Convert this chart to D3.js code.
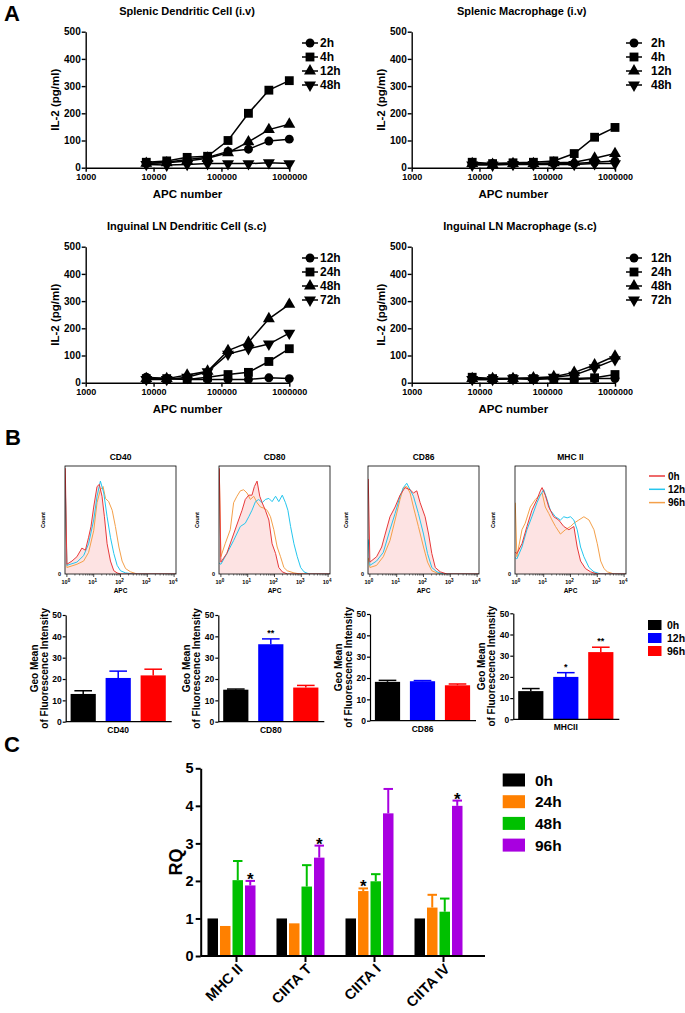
<!DOCTYPE html>
<html><head><meta charset="utf-8">
<script src="https://cdn.jsdelivr.net/npm/d3@7"></script>
<style>
body{margin:0;background:#fff}
text{font-family:"Liberation Sans",Arial,sans-serif;font-weight:bold;fill:#000}
</style></head>
<body><svg id="c" width="685" height="1013"></svg>
<script>
// ---------------- DATA ----------------
const apcNumbers = [7812.5,15625,31250,62500,125000,250000,500000,1000000];
const apcTicks = [1000,10000,100000,1000000];
const il2Ticks = [0,100,200,300,400,500];
const splenicTimes = ["2h","4h","12h","48h"];
const inguinalTimes = ["12h","24h","48h","72h"];
const splenicDC = [
  [15,20,30,38,60,68,98,105],
  [20,25,38,42,100,200,285,320],
  [16,18,25,35,55,95,140,160],
  [12,10,12,15,15,15,18,15]];
const splenicMac = [
  [12,15,15,12,15,15,20,25],
  [20,15,18,20,25,52,112,148],
  [15,12,15,15,18,20,35,52],
  [10,10,12,12,12,12,15,15]];
const inguinalDC = [
  [20,15,12,12,12,12,18,15],
  [15,15,12,20,30,38,78,125],
  [15,15,28,42,118,148,235,288],
  [12,12,20,40,105,125,142,182]];
const inguinalMac = [
  [12,12,15,12,15,12,15,15],
  [20,15,15,15,15,15,18,30],
  [15,15,15,18,22,38,65,98],
  [12,12,15,15,20,28,55,85]];

// histograms: [log10 APC, % of max count]
const histMarkers = ["CD40","CD80","CD86","MHC II"];
const histTimes = ["0h","12h","96h"];
const histDecades = [0,1,2,3,4];
const cd40_0h = [[-0.06,98],[0,9],[0.19,12],[0.375,16],[0.56,24],[0.69,22],[0.81,34],[0.9,44],[1.0,62],[1.125,81],[1.21,83],[1.31,72],[1.4,53],[1.5,28],[1.625,12],[1.75,3],[1.875,1],[2.0,0],[4.06,0]];
const cd40_12h = [[-0.06,85],[0,8],[0.375,11],[0.625,17],[0.81,28],[1.0,50],[1.125,72],[1.25,86],[1.375,75],[1.5,53],[1.625,34],[1.75,19],[1.875,8],[2.0,3],[2.19,1],[2.5,0],[4.06,0]];
const cd40_96h = [[-0.06,82],[0,6],[0.375,9],[0.625,12],[0.81,20],[1.0,40],[1.125,66],[1.25,78],[1.35,81],[1.44,70],[1.56,67],[1.69,59],[1.81,44],[1.94,25],[2.06,12],[2.19,5],[2.375,2],[2.625,0],[4.06,0]];
const cd80_0h = [[-0.06,98],[0,11],[0.22,19],[0.475,37],[0.66,50],[0.79,59],[0.91,69],[1.04,73],[1.16,73],[1.25,81],[1.35,86],[1.45,72],[1.54,66],[1.66,59],[1.79,50],[1.91,28],[2.04,19],[2.16,6],[2.29,2],[2.48,0],[4.06,0]];
const cd80_12h = [[-0.06,10],[0,9],[0.225,19],[0.475,31],[0.725,44],[0.91,47],[1.04,53],[1.16,59],[1.29,67],[1.41,69],[1.54,66],[1.66,69],[1.79,70],[1.91,67],[2.04,72],[2.16,67],[2.29,73],[2.41,66],[2.5,59],[2.6,44],[2.725,28],[2.85,16],[2.975,6],[3.1,2],[3.29,0],[4.06,0]];
const cd80_96h = [[-0.06,97],[0,16],[0.16,28],[0.35,41],[0.475,66],[0.6,72],[0.725,77],[0.85,78],[0.975,75],[1.1,69],[1.225,72],[1.35,66],[1.475,62],[1.6,61],[1.725,59],[1.85,53],[1.975,41],[2.1,25],[2.225,16],[2.35,6],[2.475,3],[2.725,1],[2.975,0],[4.06,0]];
const cd86_0h = [[-0.06,88],[0,11],[0.25,16],[0.44,25],[0.56,36],[0.75,53],[0.94,62],[1.125,73],[1.31,80],[1.5,78],[1.625,75],[1.75,77],[1.875,66],[2.06,53],[2.19,37],[2.31,19],[2.44,6],[2.625,2],[2.875,0],[4.06,0]];
const cd86_12h = [[-0.06,32],[0,8],[0.25,12],[0.5,20],[0.75,41],[0.94,56],[1.125,72],[1.25,80],[1.375,84],[1.5,78],[1.625,72],[1.81,56],[2.0,37],[2.15,19],[2.31,6],[2.5,2],[2.75,0],[4.06,0]];
const cd86_96h = [[-0.06,15],[0,6],[0.25,8],[0.5,16],[0.75,31],[0.94,50],[1.125,69],[1.25,80],[1.375,81],[1.5,75],[1.625,62],[1.81,44],[2.0,25],[2.15,11],[2.31,3],[2.5,1],[2.75,0],[4.06,0]];
const mhc_0h = [[-0.06,20],[0,19],[0.19,28],[0.375,44],[0.56,59],[0.75,69],[0.875,77],[0.94,80],[1.06,73],[1.19,62],[1.375,53],[1.56,50],[1.75,44],[1.94,41],[2.125,44],[2.25,25],[2.375,12],[2.56,5],[2.75,2],[3.0,0],[4.06,0]];
const mhc_12h = [[-0.06,15],[0,14],[0.19,25],[0.375,41],[0.56,53],[0.75,66],[0.875,73],[1.0,78],[1.125,69],[1.25,59],[1.44,53],[1.625,50],[1.75,53],[1.875,52],[2.0,53],[2.125,50],[2.25,41],[2.375,25],[2.5,16],[2.69,6],[2.875,2],[3.125,0],[4.06,0]];
const mhc_96h = [[-0.06,66],[0,16],[0.19,41],[0.31,47],[0.5,62],[0.69,69],[0.81,72],[0.94,75],[1.06,62],[1.19,56],[1.31,50],[1.44,44],[1.625,37],[1.81,41],[2.0,44],[2.125,47],[2.31,50],[2.5,53],[2.69,50],[2.875,41],[3.0,28],[3.125,12],[3.25,5],[3.375,2],[3.625,0],[4.06,0]];

// geo mean bars
const geoMarkers = ["CD40","CD80","CD86","MHCII"];
const geoTimes = ["0h","12h","96h"];
const geoTicks = [0,10,20,30,40,50];
const geoMean = [[13,20.5,21.7],[15,36.3,16],[18.2,18.5,16.6],[13.3,20,31.7]];
const geoErrTop = [[14.5,23.7,24.6],[15.3,38.8,17],[18.9,18.8,17.2],[14.5,22,34]];
const geoSig = [["","",""],["","**",""],["","",""],["","*","**"]];

// RQ bars
const rqGenes = ["MHC II","CIITA T","CIITA I","CIITA IV"];
const rqTimes = ["0h","24h","48h","96h"];
const rqTicks = [0,1,2,3,4,5];
const rqMean = [[1,0.8,2.02,1.88],[1,0.87,1.85,2.62],[1,1.73,1.99,3.8],[1,1.29,1.18,4.0]];
const rqErrTop = [[1,0.8,2.53,2.0],[1,0.87,2.42,2.94],[1,1.8,2.18,4.45],[1,1.63,1.53,4.14]];
const rqSig = [["","","","*"],["","","","*"],["","*","",""],["","","","*"]];

// ---------------- DRAW ----------------
const svg = d3.select("#c");
const F = '"Liberation Sans",Arial,sans-serif';

function styleAxis(g, fs, sw){
  g.selectAll("path.domain").attr("stroke","#000").attr("stroke-width",sw);
  g.selectAll(".tick line").attr("stroke","#000").attr("stroke-width",sw);
  g.selectAll(".tick text").attr("font-size",fs).attr("font-family",F).attr("font-weight","bold").attr("fill","#000");
}
function label(x,y,t,fs,anchor,rot){
  const e = svg.append("text").attr("x",x).attr("y",y).attr("font-size",fs).attr("text-anchor",anchor||"middle").text(t);
  if(rot) e.attr("transform",`rotate(${rot},${x},${y})`);
  return e;
}

// Panel letters
label(4,21,"A",22,"start");
label(5,445,"B",22,"start");
label(4,752,"C",22,"start");

// ---- Panel A ----
const symTypes = [d3.symbolCircle,d3.symbolSquare,d3.symbolTriangle,d3.symbolTriangle];
const symSizes = [62,78,62,62];
function markerPath(i){ return d3.symbol().type(symTypes[i]).size(symSizes[i])(); }
function markerRot(i){ return i===3 ? " rotate(180)" : ""; }

function drawA(data, times, title, x0, x1, yTop, yBot, titleX, legM, legT, legY){
  const x = d3.scaleLog().domain([1000,1000000]).range([x0,x1]);
  const y = d3.scaleLinear().domain([0,500]).range([yBot,yTop]);
  const ya = svg.append("g").attr("transform",`translate(${x0},0)`)
    .call(d3.axisLeft(y).tickValues(il2Ticks).tickSize(4).tickSizeOuter(0).tickPadding(1).tickFormat(d3.format("d")));
  styleAxis(ya,10,1.4);
  const xa = svg.append("g").attr("transform",`translate(0,${yBot})`)
    .call(d3.axisBottom(x).tickValues(apcTicks).tickSize(4).tickSizeOuter(0).tickPadding(2).tickFormat(d3.format("d")));
  styleAxis(xa,9,1.4);
  label(titleX, yTop-17, title, 11);
  label((x0+x1)/2, yBot+30, "APC number", 11.5);
  label(x0-27, (yTop+yBot)/2, "IL-2 (pg/ml)", 11.5, "middle", -90);
  const line = d3.line().x((d,j)=>x(apcNumbers[j])).y(d=>y(d));
  data.forEach((s,i)=>{
    svg.append("path").attr("d",line(s)).attr("fill","none").attr("stroke","#000").attr("stroke-width",1.5);
  });
  data.forEach((s,i)=>{
    svg.append("g").selectAll("path").data(s).join("path")
      .attr("d",markerPath(i))
      .attr("transform",(d,j)=>`translate(${x(apcNumbers[j])},${y(d)})${markerRot(i)}`)
      .attr("fill","#000");
  });
  times.forEach((t,i)=>{
    const yy = legY + i*14;
    svg.append("line").attr("x1",legM-8).attr("x2",legM+8).attr("y1",yy).attr("y2",yy).attr("stroke","#000").attr("stroke-width",1.5);
    svg.append("path").attr("d",markerPath(i)).attr("transform",`translate(${legM},${yy})${markerRot(i)}`).attr("fill","#000");
    label(legT, yy+4.3, t, 12, "start");
  });
}
drawA(splenicDC, splenicTimes, "Splenic Dendritic Cell  (i.v)", 85.7, 289.3, 31.7, 167.7, 187, 310, 320, 43);
drawA(splenicMac, splenicTimes, "Splenic Macrophage (i.v)", 411.7, 615, 31.7, 167.7, 521.7, 634, 651, 43);
drawA(inguinalDC, inguinalTimes, "Inguinal LN Dendritic Cell (s.c)", 85.7, 289.3, 246.7, 382.7, 186.7, 310, 320, 258);
drawA(inguinalMac, inguinalTimes, "Inguinal LN Macrophage (s.c)", 411.7, 615, 246.7, 382.7, 520, 634, 651, 258);

// ---- Panel B histograms ----
const histColors = ["#e8393a","#25c6ee","#f4a04a"];
const histCurves = [[cd40_0h,cd40_12h,cd40_96h],[cd80_0h,cd80_12h,cd80_96h],[cd86_0h,cd86_12h,cd86_96h],[mhc_0h,mhc_12h,mhc_96h]];
const histLefts = [65,219,368,515];
const hTop = 466, hBot = 574, hW = 111;
histMarkers.forEach((m,k)=>{
  const left = histLefts[k];
  const x = d3.scaleLinear().domain([-0.07,4.07]).range([left,left+hW]);
  const y = d3.scaleLinear().domain([0,100]).range([hBot,hTop]);
  const cid = "clip"+k;
  svg.append("clipPath").attr("id",cid).append("rect").attr("x",left).attr("y",hTop).attr("width",hW).attr("height",hBot-hTop);
  const g = svg.append("g").attr("clip-path",`url(#${cid})`);
  const curves = histCurves[k];
  g.append("path").attr("d", d3.area().x(d=>x(d[0])).y0(hBot).y1(d=>y(d[1]))(curves[0]))
    .attr("fill","#fde3e3").attr("stroke","none");
  [2,1,0].forEach(i=>{
    g.append("path").attr("d", d3.line().x(d=>x(d[0])).y(d=>y(d[1]))(curves[i]))
      .attr("fill","none").attr("stroke",histColors[i]).attr("stroke-width",1);
  });
  svg.append("rect").attr("x",left).attr("y",hTop).attr("width",hW).attr("height",hBot-hTop)
    .attr("fill","none").attr("stroke","#000").attr("stroke-width",0.8);
  histDecades.forEach(dd=>{
    svg.append("line").attr("x1",x(dd)).attr("x2",x(dd)).attr("y1",hBot).attr("y2",hBot+3).attr("stroke","#000").attr("stroke-width",0.7);
    const t = svg.append("text").attr("x",x(dd)-1).attr("y",hBot+10).attr("font-size",5.5).attr("text-anchor","middle").attr("font-weight","normal");
    t.append("tspan").text("10");
    t.append("tspan").attr("dy",-2.5).attr("font-size",4.5).text(dd);
    if(dd<4) for(let mm=2; mm<10; mm++){
      const xx = x(dd+Math.log10(mm));
      svg.append("line").attr("x1",xx).attr("x2",xx).attr("y1",hBot).attr("y2",hBot+1.6).attr("stroke","#000").attr("stroke-width",0.5);
    }
  });
  label(left+hW/2, hBot+19, "APC", 6.5);
  label(left-20, (hTop+hBot)/2, "Count", 5.5, "middle", -90).attr("font-weight","normal");
  label(left-4, hBot+2, "0", 5.5, "end").attr("font-weight","normal");
  label(left+hW/2, hTop-6, m, 8.5);
});
histTimes.forEach((t,i)=>{
  const yy = 476 + i*13.3;
  svg.append("line").attr("x1",649).attr("x2",665).attr("y1",yy).attr("y2",yy).attr("stroke",histColors[i]).attr("stroke-width",1.5);
  label(668, yy+3.5, t, 10, "start");
});

// ---- Panel B bar charts ----
const geoColors = ["#000000","#0000ff","#ff0000"];
const geoAxisX = [65.7,218.3,370,513.3];
const geoY0 = [721.7,721.7,720.7,719.3];
const geoY50 = [615,615,614,613.3];
geoMarkers.forEach((m,k)=>{
  const ax = geoAxisX[k];
  const x = d3.scaleBand().domain(geoTimes).range([ax, ax+105]).paddingInner(0.28).paddingOuter(0.14);
  const y = d3.scaleLinear().domain([0,50]).range([geoY0[k],geoY50[k]]);
  const bw = x.bandwidth();
  geoTimes.forEach((t,i)=>{
    const cx = x(t)+bw/2;
    svg.append("line").attr("x1",cx).attr("x2",cx).attr("y1",y(geoMean[k][i])).attr("y2",y(geoErrTop[k][i])).attr("stroke",geoColors[i]).attr("stroke-width",1.5);
    svg.append("line").attr("x1",cx-bw*0.35).attr("x2",cx+bw*0.35).attr("y1",y(geoErrTop[k][i])).attr("y2",y(geoErrTop[k][i])).attr("stroke",geoColors[i]).attr("stroke-width",1.5);
    svg.append("rect").attr("x",x(t)).attr("width",bw).attr("y",y(geoMean[k][i])).attr("height",y(0)-y(geoMean[k][i])).attr("fill",geoColors[i]);
    if(geoSig[k][i]) label(cx, y(geoErrTop[k][i])-3, geoSig[k][i], 9);
  });
  const ya = svg.append("g").attr("transform",`translate(${ax},0)`)
    .call(d3.axisLeft(y).tickValues(geoTicks).tickSize(3).tickSizeOuter(0).tickPadding(1));
  styleAxis(ya,8.5,1.2);
  svg.append("line").attr("x1",ax).attr("x2",ax+106).attr("y1",y(0)).attr("y2",y(0)).attr("stroke","#000").attr("stroke-width",1.2);
  label(ax+52.5, y(0)+11, m, 8.5);
  const cy = (geoY0[k]+geoY50[k])/2;
  label(ax-28, cy, "Geo Mean", 10, "middle", -90);
  label(ax-18, cy, "of Fluorescence Intensity", 10, "middle", -90);
});
geoTimes.forEach((t,i)=>{
  const yy = 625 + i*13;
  svg.append("rect").attr("x",648).attr("y",yy-5).attr("width",13.5).attr("height",10).attr("fill",geoColors[i]);
  label(667, yy+3.7, t, 10.5, "start");
});

// ---- Panel C ----
const rqColors = ["#000000","#ff8000","#00c000","#a800e0"];
const cx0 = d3.scaleBand().domain(rqGenes).range([197,473]);
const cx1 = d3.scaleBand().domain(rqTimes).range([-24,24]).paddingInner(0.16);
const cy = d3.scaleLinear().domain([0,5]).range([956,768.3]);
rqGenes.forEach((gname,k)=>{
  const gc = cx0(gname)+cx0.bandwidth()/2;
  rqTimes.forEach((t,i)=>{
    const bx = gc + cx1(t), bw = cx1.bandwidth(), mid = bx+bw/2;
    if(rqErrTop[k][i] > rqMean[k][i]){
      svg.append("line").attr("x1",mid).attr("x2",mid).attr("y1",cy(rqMean[k][i])).attr("y2",cy(rqErrTop[k][i])).attr("stroke",rqColors[i]).attr("stroke-width",2);
      svg.append("line").attr("x1",mid-bw*0.45).attr("x2",mid+bw*0.45).attr("y1",cy(rqErrTop[k][i])).attr("y2",cy(rqErrTop[k][i])).attr("stroke",rqColors[i]).attr("stroke-width",2);
    }
    svg.append("rect").attr("x",bx).attr("width",bw).attr("y",cy(rqMean[k][i])).attr("height",cy(0)-cy(rqMean[k][i])).attr("fill",rqColors[i]);
    if(rqSig[k][i]) label(mid, cy(rqErrTop[k][i])+4, rqSig[k][i], 17);
  });
  const tx = gc+5;
  svg.append("line").attr("x1",tx).attr("x2",tx).attr("y1",956).attr("y2",962).attr("stroke","#000").attr("stroke-width",2);
  label(tx+7, 970, gname, 14.5, "end", -45);
});
const cya = svg.append("g").attr("transform","translate(200.7,0)")
  .call(d3.axisLeft(cy).tickValues(rqTicks).tickSize(5).tickSizeOuter(0).tickPadding(2).tickFormat(d3.format("d")));
styleAxis(cya,14.5,2);
svg.append("line").attr("x1",200.7).attr("x2",485).attr("y1",956).attr("y2",956).attr("stroke","#000").attr("stroke-width",2);
label(182, 862, "RQ", 18, "middle", -90);
rqTimes.forEach((t,i)=>{
  const yy = 780 + i*21.7;
  svg.append("rect").attr("x",502.7).attr("y",yy-6.5).attr("width",22.3).attr("height",13).attr("fill",rqColors[i]);
  label(535, yy+5.5, t, 15.5, "start");
});
</script>
</body></html>
